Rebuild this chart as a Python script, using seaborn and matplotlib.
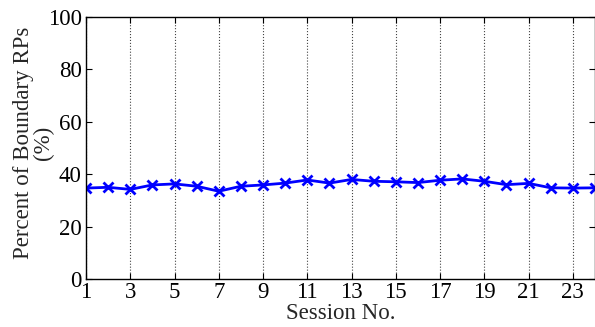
import matplotlib
matplotlib.use("Agg")
import matplotlib.pyplot as plt
import seaborn as sns
import pandas as pd

# Share of boundary reference points per session
sessions = list(range(1, 25))
percent_boundary = [34.7, 35.0, 34.2, 35.9, 36.3, 35.4, 33.5, 35.4, 35.9, 36.6,
                    37.8, 36.6, 38.0, 37.3, 37.1, 36.8, 37.7, 38.2, 37.3, 36.0,
                    36.5, 34.8, 34.7, 34.8]
xticks = list(range(1, 24, 2))
yticks = [0, 20, 40, 60, 80, 100]

sns.set_style("ticks")
plt.rcParams["font.family"] = ["Liberation Serif", "DejaVu Serif"]

df = pd.DataFrame({"session": sessions, "percent": percent_boundary})

fig = plt.figure(figsize=(5.95, 3.27), dpi=100)
ax = fig.add_axes([86 / 595, 1 - 279 / 327, (595 - 86) / 595, (279 - 17) / 327])

sns.lineplot(data=df, x="session", y="percent", ax=ax, color="#0000ff",
             marker="x", markersize=6.5, markeredgewidth=2,
             markeredgecolor="#0000ff", linewidth=2)

ax.set_xlim(1, 24)
ax.set_ylim(0, 100)
ax.set_xticks(xticks)
ax.set_yticks(yticks)
ax.tick_params(direction="in", length=4, width=0.8, labelsize=16.5,
               top=True, right=True, colors="black")
ax.tick_params(axis="x", pad=2)
ax.tick_params(axis="y", pad=3)
ax.xaxis.grid(True, linestyle=":", color="#444444", linewidth=0.8)
ax.yaxis.grid(False)
for s in ax.spines.values():
    s.set_color("black")
    s.set_linewidth(1.0)

ax.set_xlabel("Session No.", fontsize=16.5)
ax.xaxis.set_label_coords(0.5, -0.093)
ax.set_ylabel("Percent of Boundary RPs\n(%)", fontsize=16.5, linespacing=0.95)
ax.yaxis.set_label_coords(-0.062, 0.52)

fig.savefig("out.png", dpi=100)
